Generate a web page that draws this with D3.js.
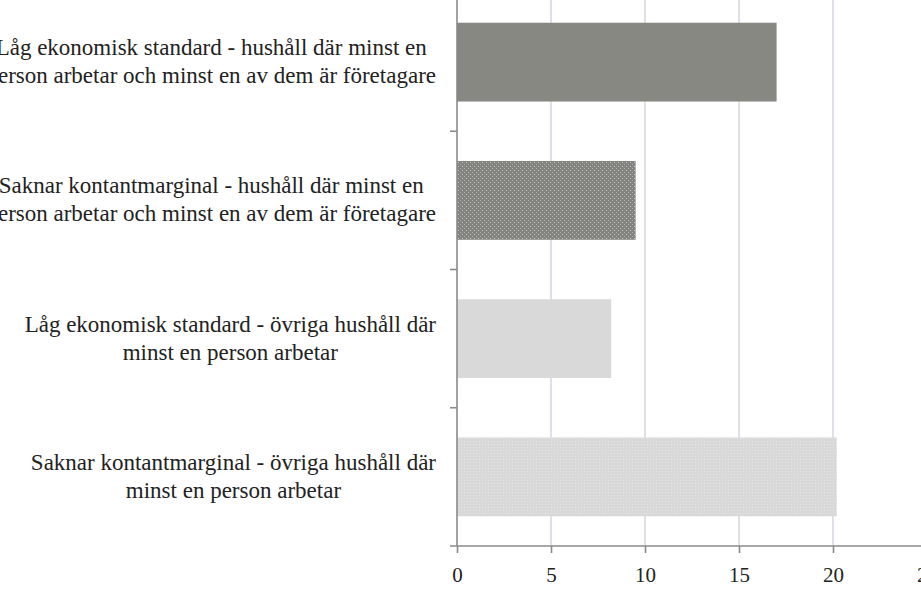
<!DOCTYPE html>
<html>
<head>
<meta charset="utf-8">
<script src="https://cdn.jsdelivr.net/npm/d3@7"></script>
<style>
  body { margin: 0; background: #fff; overflow: hidden; }
  svg text { font-family: "Liberation Serif", "DejaVu Serif", serif; fill: #222; }
</style>
</head>
<body>
<div id="chart"></div>
<script>
// categories, top to bottom, each label split into its lines
let categories = [
	"Låg ekonomisk standard - hushåll där minst en person arbetar och minst en av dem är företagare",
	"Saknar kontantmarginal - hushåll där minst en person arbetar och minst en av dem är företagare",
	"Låg ekonomisk standard - övriga hushåll där minst en person arbetar",
	"Saknar kontantmarginal - övriga hushåll där minst en person arbetar"
];
let labelLines = [
	["Låg ekonomisk standard - hushåll där minst en", "person arbetar och minst en av dem är företagare"],
	["Saknar kontantmarginal - hushåll där minst en", "person arbetar och minst en av dem är företagare"],
	["Låg ekonomisk standard - övriga hushåll där", "minst en person arbetar"],
	["Saknar kontantmarginal - övriga hushåll där", "minst en person arbetar"]
];
let values = [17.0, 9.5, 8.2, 20.2];
let xTicks = [0, 5, 10, 15, 20, 25];
let fills = ["url(#solid-dark)", "url(#dots-dark)", "url(#solid-light)", "url(#dots-light)"];

let margin = { top: -7, left: 457, bottom: 60 };
let width = 470, height = 606 - margin.top - margin.bottom;

let svg = d3.select("#chart").append("svg")
	.attr("width", 921)
	.attr("height", 606);

// bar fill patterns
let defs = svg.append("defs");
defs.append("pattern").attr("id", "solid-dark")
	.attr("width", 4).attr("height", 4).attr("patternUnits", "userSpaceOnUse")
	.append("rect").attr("width", 4).attr("height", 4).attr("fill", "#878882");
defs.append("pattern").attr("id", "solid-light")
	.attr("width", 4).attr("height", 4).attr("patternUnits", "userSpaceOnUse")
	.append("rect").attr("width", 4).attr("height", 4).attr("fill", "#d9d9d9");

let dd = defs.append("pattern").attr("id", "dots-dark")
	.attr("width", 4).attr("height", 4).attr("patternUnits", "userSpaceOnUse");
dd.append("rect").attr("width", 4).attr("height", 4).attr("fill", "#83847f");
dd.append("rect").attr("x", 1).attr("y", 1).attr("width", 1).attr("height", 1).attr("fill", "#c4c4c0");
dd.append("rect").attr("x", 3).attr("y", 3).attr("width", 1).attr("height", 1).attr("fill", "#aeaeaa");

let dl = defs.append("pattern").attr("id", "dots-light")
	.attr("width", 3).attr("height", 3).attr("patternUnits", "userSpaceOnUse");
dl.append("rect").attr("width", 3).attr("height", 3).attr("fill", "#d8d8d8");
dl.append("rect").attr("x", 1).attr("y", 1).attr("width", 1).attr("height", 1).attr("fill", "#e6e6e6");

let g = svg.append("g")
	.attr("transform", "translate(" + margin.left + "," + margin.top + ")");

// scales
let x = d3.scaleLinear().domain([0, 25]).range([0, width]);
let y = d3.scaleBand().domain(categories).range([0, height])
	.paddingInner(0.43).paddingOuter(0.215);

// vertical gridlines
g.selectAll(".grid").data(xTicks.filter(d => d > 0)).enter()
	.append("line")
	.attr("class", "grid")
	.attr("x1", d => x(d)).attr("x2", d => x(d))
	.attr("y1", 0).attr("y2", height)
	.attr("stroke", "#d8d8e6")
	.attr("stroke-width", 1.6);

// bars
g.selectAll(".bar").data(values).enter()
	.append("rect")
	.attr("class", "bar")
	.attr("x", 0)
	.attr("y", (d, i) => y(categories[i]))
	.attr("width", d => x(d))
	.attr("height", y.bandwidth())
	.attr("fill", (d, i) => fills[i]);

// x axis
let xAxis = d3.axisBottom(x).tickValues(xTicks).tickSize(7).tickPadding(14);
let xg = g.append("g")
	.attr("transform", "translate(0," + height + ")")
	.call(xAxis);
xg.select(".domain").attr("d", "M-7,0H" + width);
xg.selectAll("line, path").attr("stroke", "#8a8a8a").attr("stroke-width", 1.6);
xg.selectAll("text").attr("font-size", 21).attr("font-family", "Liberation Serif").attr("fill", "#222");

// y axis line with ticks between categories
g.append("line")
	.attr("x1", 0).attr("x2", 0).attr("y1", 0).attr("y2", height)
	.attr("stroke", "#8a8a8a").attr("stroke-width", 1.6);
let step = y.step();
g.selectAll(".ytick").data(categories.slice(1)).enter()
	.append("line")
	.attr("class", "ytick")
	.attr("x1", -7).attr("x2", 0)
	.attr("y1", d => y(d) - (step - y.bandwidth()) / 2)
	.attr("y2", d => y(d) - (step - y.bandwidth()) / 2)
	.attr("stroke", "#8a8a8a").attr("stroke-width", 1.6);

// category labels: lines centered in a block that ends just left of the axis
let lineH = 28;
labelLines.forEach(function (lines, i) {
	let cy = y(categories[i]) + y.bandwidth() / 2;
	let t = g.append("text")
		.attr("text-anchor", "middle")
		.attr("font-size", 23);
	lines.forEach(function (s, j) {
		t.append("tspan")
			.attr("x", 0)
			.attr("dy", j === 0 ? 0 : lineH)
			.text(s);
	});
	let maxW = d3.max(t.selectAll("tspan").nodes(), n => n.getComputedTextLength());
	let cx = -21 - maxW / 2;
	let by = cy - lineH * (lines.length - 1) / 2 + 7;
	t.attr("transform", "translate(" + cx + "," + by + ")");
});
</script>
</body>
</html>
